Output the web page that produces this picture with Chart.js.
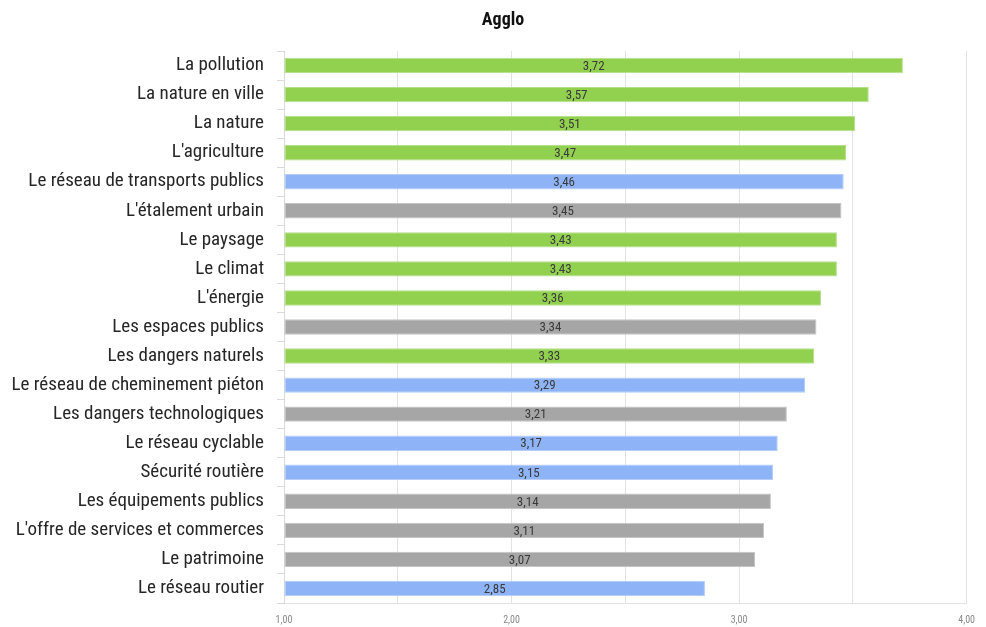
<!DOCTYPE html>
<html lang="fr">
<head>
<meta charset="utf-8">
<script src="https://cdn.jsdelivr.net/npm/chart.js@4/dist/chart.umd.min.js"></script>
<style>
  html, body { margin: 0; padding: 0; background: #fff; }
  #wrap { width: 986px; height: 627px; }
</style>
</head>
<body>
<div id="wrap"><canvas id="c" width="986" height="627"></canvas></div>
<script>
// Thèmes évalués, note moyenne (échelle 1 à 4)
const categories = [
  "La pollution", "La nature en ville", "La nature", "L'agriculture",
  "Le réseau de transports publics", "L'étalement urbain", "Le paysage",
  "Le climat", "L'énergie", "Les espaces publics", "Les dangers naturels",
  "Le réseau de cheminement piéton", "Les dangers technologiques",
  "Le réseau cyclable", "Sécurité routière", "Les équipements publics",
  "L'offre de services et commerces", "Le patrimoine", "Le réseau routier"
];
const values = [3.72, 3.57, 3.51, 3.47, 3.46, 3.45, 3.43, 3.43, 3.36, 3.34,
                3.33, 3.29, 3.21, 3.17, 3.15, 3.14, 3.11, 3.07, 2.85];
// Famille de chaque thème
const groups = ["env", "env", "env", "env", "mob", "urb", "env", "env", "env", "urb",
                "env", "mob", "urb", "mob", "mob", "urb", "urb", "urb", "mob"];
const groupColors = { env: "#92D050", mob: "#8EB4F7", urb: "#A6A6A6" };
const groupBorders = { env: "#B5E08A", mob: "#B4CDF9", urb: "#C4C4C4" };
const xTicks = [1, 2, 3, 4];
const chartTitle = "Agglo";

const FONT = "'Liberation Sans Narrow', 'Roboto Condensed', 'Arial Narrow', 'Liberation Sans', sans-serif";
const fmt = v => v.toFixed(2).replace(".", ",");

// Titre centré au-dessus du graphique
const titleText = {
  id: "titleText",
  afterDraw(chart) {
    const ctx = chart.ctx;
    ctx.save();
    ctx.font = "bold 18px " + FONT;
    ctx.fillStyle = "#111111";
    ctx.textAlign = "center";
    ctx.textBaseline = "middle";
    ctx.fillText(chartTitle, 503, 20);
    ctx.restore();
  }
};

// Étiquettes de valeur centrées dans chaque barre
const barLabels = {
  id: "barLabels",
  afterDatasetsDraw(chart) {
    const ctx = chart.ctx;
    const meta = chart.getDatasetMeta(0);
    ctx.save();
    ctx.font = "13px " + FONT;
    ctx.fillStyle = "#3a3a3a";
    ctx.textAlign = "center";
    ctx.textBaseline = "middle";
    meta.data.forEach((bar, i) => {
      const cx = (bar.base + bar.x) / 2;
      ctx.fillText(fmt(values[i]), cx, bar.y + 1);
    });
    ctx.restore();
  }
};

new Chart(document.getElementById("c"), {
  type: "bar",
  data: {
    labels: categories,
    datasets: [{
      data: values,
      base: 1,
      backgroundColor: groups.map(g => groupColors[g]),
      borderColor: groups.map(g => groupBorders[g]),
      borderWidth: 1,
      borderSkipped: false,
      categoryPercentage: 1,
      barPercentage: 0.53
    }]
  },
  options: {
    indexAxis: "y",
    responsive: false,
    animation: false,
    layout: { padding: { left: 4, right: 7, top: 51, bottom: 0 } },
    plugins: {
      legend: { display: false },
      tooltip: { enabled: false },
      title: { display: false }
    },
    scales: {
      x: {
        min: 1,
        max: 4,
        afterFit: scale => { scale.height = 24; },
        ticks: {
          stepSize: 0.5,
          color: "#888888",
          font: { family: FONT, size: 10 },
          padding: 11,
          callback: v => (xTicks.includes(v) ? fmt(v) : "")
        },
        grid: { color: "#E3E3E3", drawTicks: false },
        border: { color: "#E3E3E3" }
      },
      y: {
        afterFit: scale => { scale.width = 280; },
        ticks: {
          color: "#262626",
          font: { family: FONT, size: 19, lineHeight: 0.6 },
          padding: 13
        },
        grid: {
          offset: true,
          drawOnChartArea: false,
          drawTicks: true,
          tickLength: 7,
          color: "#D9D9D9"
        },
        border: { color: "#D9D9D9" }
      }
    }
  },
  plugins: [barLabels, titleText]
});
</script>
</body>
</html>
